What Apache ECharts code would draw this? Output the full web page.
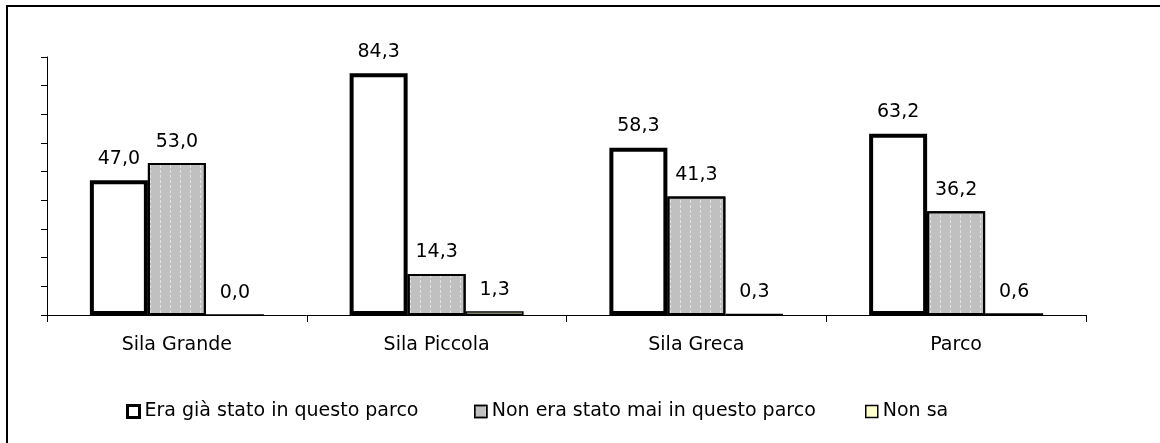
<!DOCTYPE html>
<html>
<head>
<meta charset="utf-8">
<script src="https://cdn.jsdelivr.net/npm/echarts@6/dist/echarts.min.js"></script>
<style>
  html, body { margin: 0; padding: 0; background: #fff; }
  #container { width: 1160px; height: 443px; }
</style>
</head>
<body>
<div id="container"></div>
<script>
// dati
var categories = ['Sila Grande', 'Sila Piccola', 'Sila Greca', 'Parco'];
var seriesNames = ['Era già stato in questo parco', 'Non era stato mai in questo parco', 'Non sa'];
var giaStato = [47.0, 84.3, 58.3, 63.2];
var maiStato = [53.0, 14.3, 41.3, 36.2];
var nonSa = [0.0, 1.3, 0.3, 0.6];

var font = 'DejaVu Sans';
var dom = document.getElementById('container');
var myChart = echarts.init(dom);

function etichetta(p) {
  return p.value.toFixed(1).replace('.', ',');
}

var label = {
  show: true,
  position: 'top',
  distance: 12,
  color: '#000',
  fontFamily: font,
  fontSize: 19,
  formatter: etichetta
};

function legenda(i, left, style) {
  return {
    left: left,
    top: 397,
    itemWidth: 12,
    itemHeight: 12,
    icon: 'rect',
    textStyle: { color: '#000', fontFamily: font, fontSize: 19 },
    data: [{ name: seriesNames[i], itemStyle: style }]
  };
}

var option = {
  animation: false,
  backgroundColor: '#fff',
  graphic: [{
    type: 'rect',
    shape: { x: 7, y: 6, width: 1400, height: 700 },
    style: { fill: 'none', stroke: '#000', lineWidth: 2 },
    silent: true
  }],
  legend: [
    legenda(0, 121, { color: '#fff', borderColor: '#000', borderWidth: 3 }),
    legenda(1, 469, { color: '#c0c0c0', borderColor: '#000', borderWidth: 1.5 }),
    legenda(2, 860, { color: '#ffffcc', borderColor: '#000', borderWidth: 1.5 })
  ],
  grid: {
    left: 47,
    right: 74,
    top: 57,
    bottom: 128
  },
  xAxis: {
    type: 'category',
    data: categories,
    axisLine: { lineStyle: { color: '#000', width: 1 } },
    axisTick: { show: true, length: 7, lineStyle: { color: '#000' } },
    axisLabel: { color: '#000', fontFamily: font, fontSize: 19, margin: 21 }
  },
  yAxis: {
    type: 'value',
    min: 0,
    max: 90,
    interval: 10,
    axisLine: { show: true, lineStyle: { color: '#000', width: 1 } },
    axisTick: { show: true, length: 6, lineStyle: { color: '#000' } },
    axisLabel: { show: false },
    splitLine: { show: false }
  },
  series: [{
    name: seriesNames[0],
    type: 'bar',
    barWidth: 58,
    barGap: '0%',
    data: giaStato,
    itemStyle: { color: '#fff', borderColor: '#000', borderWidth: 4 },
    label: label
  }, {
    name: seriesNames[1],
    type: 'bar',
    barWidth: 58,
    barGap: '0%',
    data: maiStato,
    itemStyle: {
      color: '#c0c0c0',
      borderColor: '#000',
      borderWidth: 2,
      decal: {
        symbol: 'rect',
        symbolSize: 1,
        dashArrayX: [1, 9],
        dashArrayY: [3, 2],
        color: 'rgba(255,255,255,0.55)'
      }
    },
    label: label
  }, {
    name: seriesNames[2],
    type: 'bar',
    barWidth: 58,
    barGap: '0%',
    data: nonSa,
    itemStyle: { color: '#ffffcc', borderColor: '#000', borderWidth: 1.5 },
    label: label
  }]
};

if (option && typeof option === 'object') {
  myChart.setOption(option, true);
}
</script>
</body>
</html>
